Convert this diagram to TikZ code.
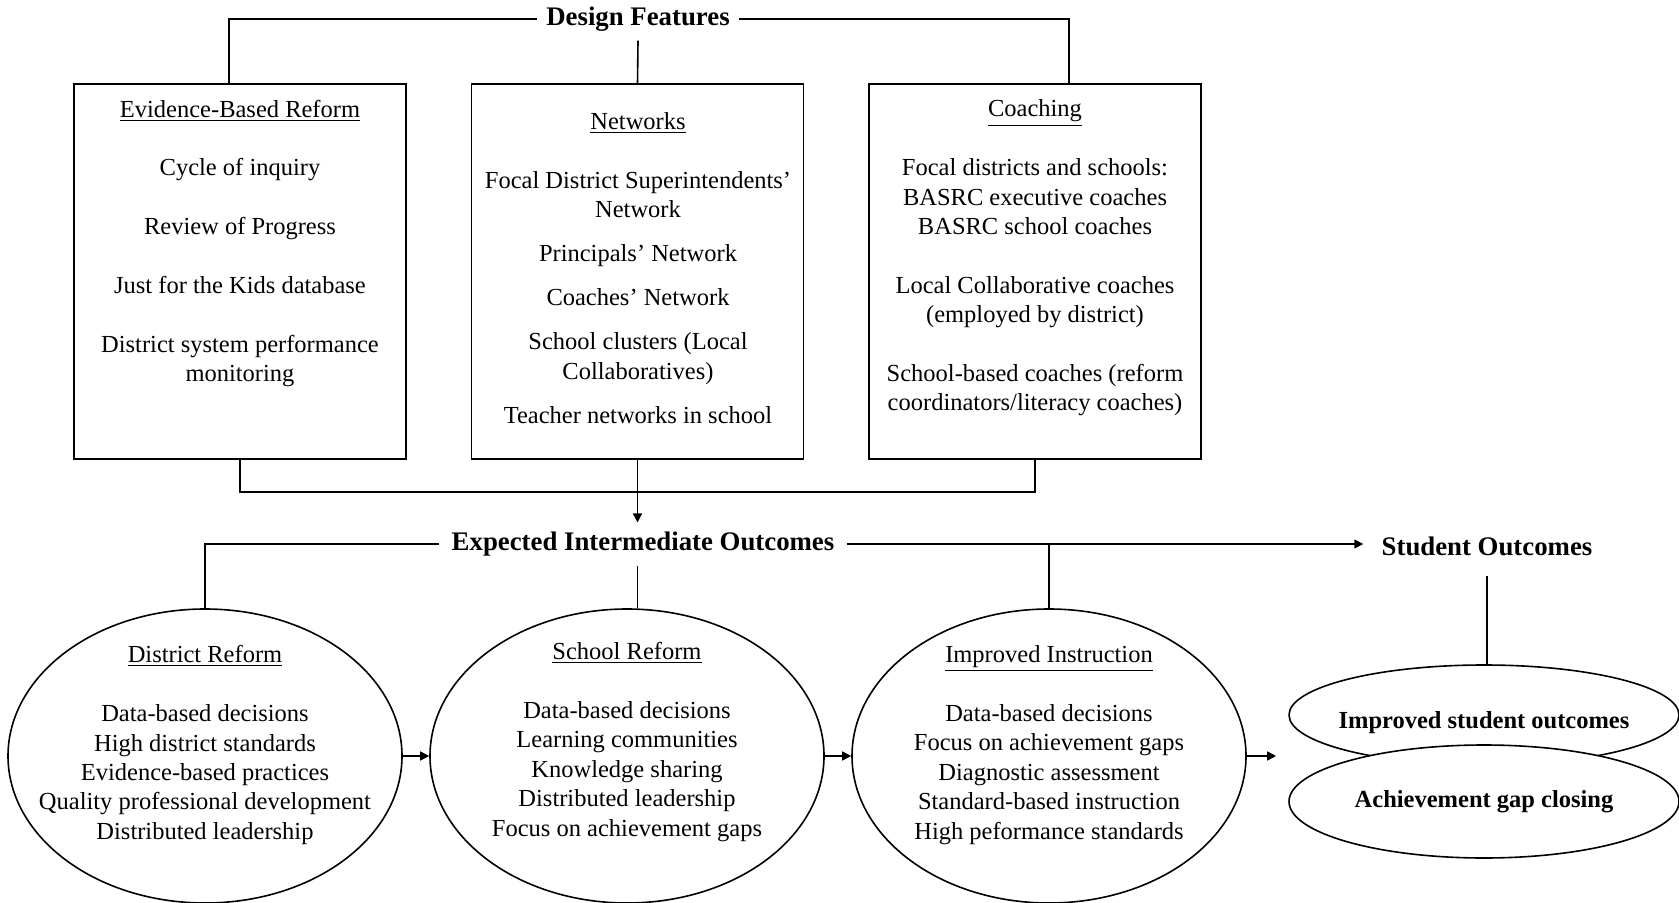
\documentclass[tikz,border=0pt]{standalone}
\usepackage{fontspec}
\setmainfont{Liberation Serif}
\usepackage{tikz}
\usetikzlibrary{shapes.geometric, arrows.meta, positioning, calc}

\begin{document}
\begin{tikzpicture}[
    x=0.5pt, y=-0.5pt,
    fbox/.style={rectangle, draw, line width=0.8pt, minimum width=166pt, minimum height=187.5pt, inner sep=0pt},
    oell/.style={ellipse, draw, line width=0.8pt, minimum width=197pt, minimum height=147pt, inner sep=0pt},
    sell/.style={ellipse, draw, fill=white, line width=0.8pt, minimum width=195pt, inner sep=0pt},
    btxt/.style={align=center, inner sep=0pt, font=\fontsize{12.25}{14.7}\selectfont},
    stxt/.style={inner sep=0pt, font=\fontsize{12.25}{14.7}\selectfont\bfseries},
    ttl/.style={font=\fontsize{13.4}{16}\selectfont\bfseries, inner xsep=4.5pt, inner ysep=4.5pt},
    arr/.style={-{Triangle[length=4.5pt, width=4.5pt]}, line width=0.8pt},
    lnk/.style={line width=0.8pt}
]
\useasboundingbox (0,0) rectangle (1679,903);

% Design features
\node[ttl] (df) at (638,19) {Design Features};
\node[fbox] (ebr) at (240,271.5) {};
\node[fbox] (net) at (637.5,271.5) {};
\node[fbox] (coach) at (1035,271.5) {};

\node[btxt] (ebrtxt) at (240,243.5) {\underline{Evidence-Based Reform}\\[14.7pt]
    Cycle of inquiry\\[14.7pt] Review of Progress\\[14.7pt] Just for the Kids database\\[14.7pt]
    District system performance\\ monitoring};
\node[btxt] (nettxt) at (638,268) {\underline{Networks}\\[14.7pt]
    Focal District Superintendents’\\ Network\\[7.3pt] Principals’ Network\\[7.3pt]
    Coaches’ Network\\[7.3pt] School clusters (Local\\ Collaboratives)\\[7.3pt]
    Teacher networks in school};
\node[btxt] (coachtxt) at (1035,258) {\underline{Coaching}\\[14.7pt]
    Focal districts and schools:\\ BASRC executive coaches\\ BASRC school coaches\\[14.7pt]
    Local Collaborative coaches\\ (employed by district)\\[14.7pt]
    School-based coaches (reform\\ coordinators/literacy coaches)};

% Outcomes
\node[ttl, inner xsep=6pt] (eio) at (643,544) {Expected Intermediate Outcomes};
\node[ttl, inner xsep=9pt, inner ysep=10pt] (so) at (1487,546) {Student Outcomes};

\node[oell] (dr) at (205,756) {};
\node[oell] (sr) at (627,756) {};
\node[oell] (ii) at (1049,756) {};
\node[sell, minimum height=50pt] (iso) at (1484,715) {};
\node[sell, minimum height=56.5pt] (agc) at (1484,801.5) {};

\node[btxt] (drtxt) at (205,745) {\underline{District Reform}\\[14.7pt]
    Data-based decisions\\ High district standards\\ Evidence-based practices\\
    Quality professional development\\ Distributed leadership};
\node[btxt] (srtxt) at (627,742) {\underline{School Reform}\\[14.7pt]
    Data-based decisions\\ Learning communities\\ Knowledge sharing\\
    Distributed leadership\\ Focus on achievement gaps};
\node[btxt] (iitxt) at (1049,745) {\underline{Improved Instruction}\\[14.7pt]
    Data-based decisions\\ Focus on achievement gaps\\ Diagnostic assessment\\
    Standard-based instruction\\ High peformance standards};
\node[stxt] (isotxt) at (1484,723) {Improved student outcomes};
\node[stxt] (agctxt) at (1484,802) {Achievement gap closing};

% Brackets
\draw[lnk] (df.west) -| ([xshift=-5.5pt]ebr.north);
\draw[lnk] (df.east) -| ([xshift=17pt]coach.north);
\draw[lnk] (df.south) -- (net.north);

\coordinate (jn) at (638,492);
\draw[lnk] (ebr.south) |- (jn) -| (coach.south);
\draw[arr] (net.south) -- (net.south |- eio.north);

\draw[lnk] (eio.west) -| (dr.north);
\draw[lnk] (net.south |- eio.south) -- (net.south |- sr.north);
\draw[lnk] (eio.east -| ii.north) -- (ii.north);
\draw[arr] (eio.east) -- (eio.east -| so.west);
\draw[lnk] (so.south) -- (so.south |- iso.north);

% Flow between outcomes
\draw[arr] (dr.east) -- (sr.west);
\draw[arr] (sr.east) -- (ii.west);
\draw[arr, shorten >=6pt] (ii.east) -- (ii.east -| iso.west);

\end{tikzpicture}
\end{document}
